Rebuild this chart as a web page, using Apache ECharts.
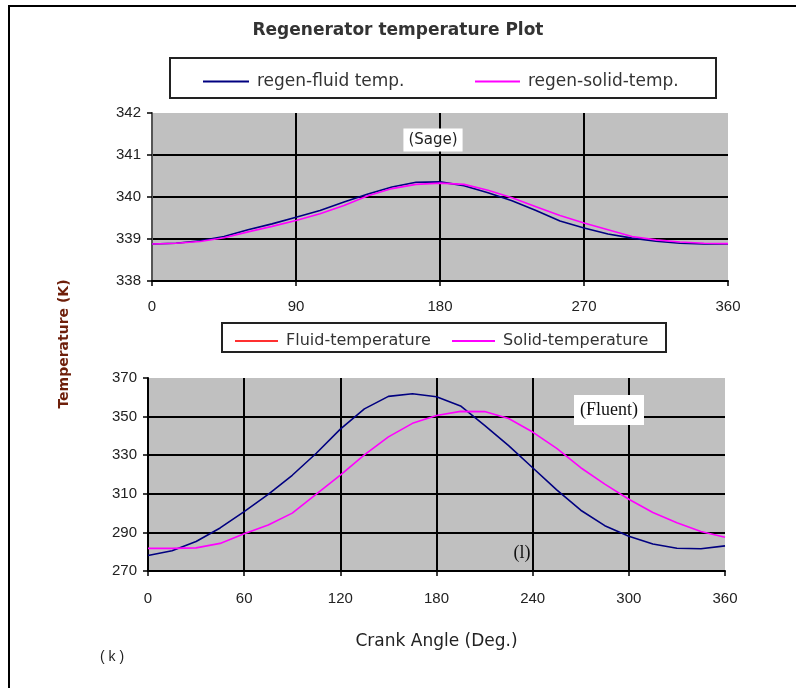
<!DOCTYPE html>
<html>
<head>
<meta charset="utf-8">
<script src="https://cdn.jsdelivr.net/npm/echarts@6/dist/echarts.min.js"></script>
<style>
  html, body { margin: 0; padding: 0; background: #fff; }
  #chart { width: 796px; height: 688px; }
</style>
</head>
<body>
<div id="chart"></div>
<script>
// crank angle (deg), shared by both plots
var angles = [0, 15, 30, 45, 60, 75, 90, 105, 120, 135, 150, 165, 180, 195, 210, 225, 240, 255, 270, 285, 300, 315, 330, 345, 360];

// Sage results (K)
var sageFluid = [338.88, 338.9, 338.96, 339.06, 339.22, 339.36, 339.52, 339.68, 339.88, 340.07, 340.24, 340.35, 340.36, 340.27, 340.1, 339.91, 339.68, 339.43, 339.26, 339.12, 339.02, 338.95, 338.9, 338.88, 338.88];
var sageSolid = [338.88, 338.9, 338.94, 339.03, 339.17, 339.3, 339.44, 339.6, 339.8, 340.03, 340.2, 340.3, 340.33, 340.3, 340.16, 339.98, 339.77, 339.56, 339.38, 339.22, 339.06, 338.98, 338.93, 338.9, 338.89];

// Fluent results (K)
var fluentFluid = [278, 280.5, 285.3, 292.3, 300.8, 309.7, 319.6, 331, 343.5, 354, 360.5, 361.8, 360.3, 355.5, 345.5, 335, 323.5, 312, 301.5, 293.5, 288, 284, 281.8, 281.5, 283];
var fluentSolid = [281.7, 281.7, 282, 284.3, 289.3, 293.8, 300, 309.8, 319.7, 330.2, 339.5, 346.5, 350.6, 352.7, 352.6, 349, 342, 333.5, 323.5, 315, 307.2, 300.3, 295, 290.5, 287.5];

// axis ranges [min, max, step]
var sageRange = [338, 342, 1];
var fluentRange = [270, 370, 20];
var sageAngleStep = 90;
var fluentAngleStep = 60;

function pairs (vals) {
  return angles.map(function (a, i) { return [a, vals[i]] })
}

var font = 'Liberation Sans';
var wide = 'DejaVu Sans';
var chart = echarts.init(document.getElementById('chart'));

function xAxisOf (grid, step, margin) {
  return {
    gridIndex: grid,
    type: 'value',
    min: 0,
    max: 360,
    interval: step,
    axisLine: { show: true, onZero: false, lineStyle: { color: '#000', width: 2 } },
    axisTick: { show: true, length: 5, lineStyle: { color: '#000', width: 1.5 } },
    axisLabel: { margin: margin, fontSize: 15, color: '#222', fontFamily: font },
    splitLine: { show: true, showMinLine: false, showMaxLine: false, lineStyle: { color: '#000', width: 2 } }
  }
}

function yAxisOf (grid, range, lineColor) {
  return {
    gridIndex: grid,
    type: 'value',
    min: range[0],
    max: range[1],
    interval: range[2],
    axisLine: { show: true, lineStyle: { color: lineColor, width: 2 } },
    axisTick: { show: true, length: 5, lineStyle: { color: '#000', width: 1.5 } },
    axisLabel: { margin: 11, fontSize: 15, color: '#222', fontFamily: font },
    splitLine: { show: true, showMinLine: false, showMaxLine: false, lineStyle: { color: '#000', width: 2 } }
  }
}

function lineSeries (name, grid, vals, color) {
  return {
    name: name,
    type: 'line',
    xAxisIndex: grid,
    yAxisIndex: grid,
    symbol: 'none',
    data: pairs(vals),
    lineStyle: { color: color, width: 1.6 },
    itemStyle: { color: color }
  }
}

function legendAt (left, top, width, size, item) {
  return {
    left: left,
    top: top,
    icon: 'rect',
    itemWidth: width,
    itemHeight: 2,
    itemGap: 0,
    data: [item],
    textStyle: { fontSize: size, color: '#333', fontFamily: wide, padding: [0, 0, 0, 3] }
  }
}

chart.setOption({
  animation: false,
  backgroundColor: '#fff',
  title: {
    text: 'Regenerator temperature Plot',
    left: 'center',
    top: 17,
    textStyle: { fontSize: 17, fontWeight: 'bold', color: '#333', fontFamily: wide }
  },
  legend: [
    legendAt(198, 68, 46, 17, 'regen-fluid temp.'),
    legendAt(470, 68, 45, 17, 'regen-solid-temp.'),
    legendAt(230, 328, 43, 16, { name: 'Fluid-temperature', itemStyle: { color: '#ff3030' } }),
    legendAt(447, 328, 43, 16, 'Solid-temperature')
  ],
  grid: [
    { left: 152, top: 113, width: 576, height: 168, show: true, backgroundColor: '#c0c0c0', borderWidth: 0 },
    { left: 148, top: 378, width: 577, height: 193, show: true, backgroundColor: '#c0c0c0', borderWidth: 0 }
  ],
  xAxis: [
    xAxisOf(0, sageAngleStep, 18),
    Object.assign(xAxisOf(1, fluentAngleStep, 20), {
      name: 'Crank Angle (Deg.)',
      nameLocation: 'middle',
      nameGap: 62,
      nameTextStyle: { fontSize: 17, color: '#222', fontFamily: wide }
    })
  ],
  yAxis: [
    yAxisOf(0, sageRange, '#555'),
    yAxisOf(1, fluentRange, '#000')
  ],
  series: [
    lineSeries('regen-fluid temp.', 0, sageFluid, '#000080'),
    lineSeries('regen-solid-temp.', 0, sageSolid, '#ff00ff'),
    lineSeries('Fluid-temperature', 1, fluentFluid, '#000080'),
    lineSeries('Solid-temperature', 1, fluentSolid, '#ff00ff')
  ],
  graphic: [
    // page frame
    { type: 'line', shape: { x1: 8, y1: 6, x2: 796, y2: 6 }, style: { stroke: '#000', lineWidth: 2 } },
    { type: 'line', shape: { x1: 9, y1: 6, x2: 9, y2: 688 }, style: { stroke: '#000', lineWidth: 2 } },
    // legend boxes
    { type: 'rect', shape: { x: 170, y: 58, width: 546, height: 40 }, style: { fill: '#fff', stroke: '#222', lineWidth: 2 } },
    { type: 'rect', shape: { x: 222, y: 323, width: 444, height: 29 }, style: { fill: '#fff', stroke: '#222', lineWidth: 2 } },
    // shared y label
    { type: 'text', x: 64, y: 344, rotation: Math.PI / 2,
      style: { text: 'Temperature (K)', font: 'bold 14px "DejaVu Sans"', fill: '#6e1f0a', textAlign: 'center', textVerticalAlign: 'middle', verticalAlign: 'middle' } },
    { type: 'text', x: 112, y: 657,
      style: { text: '( k )', font: '14px "Liberation Sans"', fill: '#222', textAlign: 'center', textVerticalAlign: 'middle', verticalAlign: 'middle' } },
    // plot tags
    { type: 'text', x: 433, y: 140, z: 10,
      style: { text: '(Sage)', font: '15px "DejaVu Sans"', fill: '#222', backgroundColor: '#fff', padding: [4, 5], textAlign: 'center', textVerticalAlign: 'middle', verticalAlign: 'middle' } },
    { type: 'text', x: 609, y: 410, z: 10,
      style: { text: '(Fluent)', font: '18px "Liberation Serif"', fill: '#111', backgroundColor: '#fff', padding: [6, 6], textAlign: 'center', textVerticalAlign: 'middle', verticalAlign: 'middle' } },
    { type: 'text', x: 522, y: 553, z: 10,
      style: { text: '(l)', font: '18px "Liberation Serif"', fill: '#111', textAlign: 'center', textVerticalAlign: 'middle', verticalAlign: 'middle' } }
  ]
});
</script>
</body>
</html>
